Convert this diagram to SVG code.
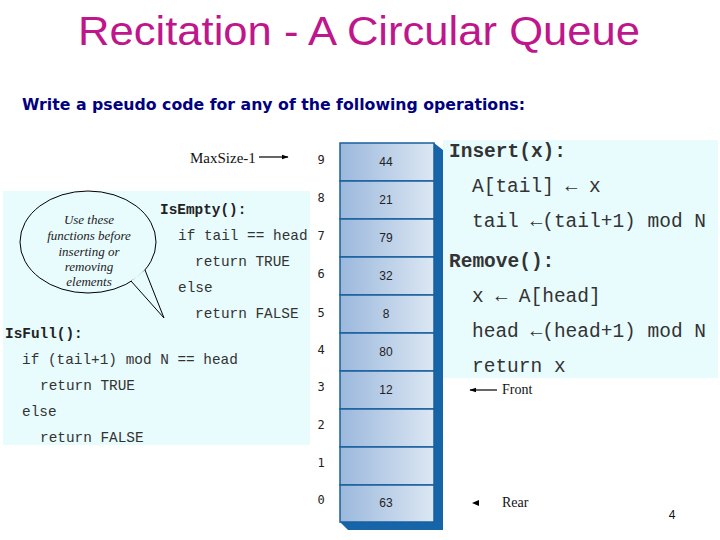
<svg xmlns="http://www.w3.org/2000/svg" width="720" height="540" viewBox="0 0 720 540">
<defs>
<linearGradient id="cellg" x1="0" y1="0" x2="1" y2="0">
<stop offset="0" stop-color="#9bb8dc"/>
<stop offset="1" stop-color="#dce7f3"/>
</linearGradient>
<marker id="ah" viewBox="0 0 10 10" refX="9" refY="5" markerWidth="7" markerHeight="7" orient="auto-start-reverse" markerUnits="userSpaceOnUse">
<path d="M0,1.5 L10,5 L0,8.5 z" fill="#000"/>
</marker>
</defs>
<style>
.title{font-family:"Comic Sans MS","Liberation Sans",sans-serif;font-size:40px;fill:#c0168c}
.sub{font-family:"Comic Sans MS","DejaVu Sans",sans-serif;font-size:16px;font-weight:bold;fill:#000080}
.panel{fill:#e8fbfd}
.code{font-family:"Liberation Mono","Courier New",monospace;font-size:14.4px;fill:#333;white-space:pre}
.codeb{font-weight:bold;fill:#222}
.big{font-family:"Liberation Mono","Courier New",monospace;font-size:19.5px;fill:#333;white-space:pre}
.cell{fill:url(#cellg);stroke:#1a5f9e;stroke-width:1.5}
.val{font-family:"Liberation Sans",Arial,sans-serif;font-size:12px;fill:#222;text-anchor:middle}
.idx{font-family:"DejaVu Sans Mono","Liberation Mono",monospace;font-size:12px;fill:#222;text-anchor:middle}
.serif{font-family:"Liberation Serif","Times New Roman",serif;fill:#111}
.bub{font-family:"Liberation Serif","Times New Roman",serif;font-style:italic;font-size:13px;fill:#222;text-anchor:middle}
.line{stroke:#000;stroke-width:1.2;fill:none}
</style>

<rect width="720" height="540" fill="#fff"/>

<g id="title">
<text class="title" x="78" y="45" textLength="562" lengthAdjust="spacingAndGlyphs">Recitation - A Circular Queue</text>
</g>
<g id="subtitle">
<text class="sub" x="22" y="110" textLength="503" lengthAdjust="spacingAndGlyphs">Write a pseudo code for any of the following operations:</text>
</g>

<g id="left-panel">
<rect class="panel" x="3" y="191" width="307" height="254"/>
</g>
<g id="right-panel">
<rect class="panel" x="443" y="140" width="275" height="238"/>
</g>

<g id="bubble">
<ellipse cx="88" cy="242" rx="68" ry="51" fill="#e8fbfd" stroke="#000" stroke-width="1"/>
<path d="M131,281 L164,318 L145,270 z" fill="#e8fbfd" stroke="none"/>
<path d="M131,281 L164,318 L145,270" fill="none" stroke="#000" stroke-width="1"/>
<text class="bub" x="89" y="224">Use these</text>
<text class="bub" x="89" y="240">functions before</text>
<text class="bub" x="89" y="256">inserting or</text>
<text class="bub" x="89" y="271">removing</text>
<text class="bub" x="89" y="286">elements</text>
</g>

<g id="isempty">
<text class="code codeb" x="160" y="214">IsEmpty():</text>
<text class="code" x="178" y="240">if tail == head</text>
<text class="code" x="195" y="266">return TRUE</text>
<text class="code" x="178" y="292">else</text>
<text class="code" x="195" y="318">return FALSE</text>
</g>

<g id="isfull">
<text class="code codeb" x="5" y="338">IsFull():</text>
<text class="code" x="22" y="364">if (tail+1) mod N == head</text>
<text class="code" x="40" y="390">return TRUE</text>
<text class="code" x="22" y="416">else</text>
<text class="code" x="40" y="442">return FALSE</text>
</g>

<g id="array">
<polygon points="434,143 443,150 443,530 348,530 340,522 434,522" fill="#1565a8"/>
<rect class="cell" x="340" y="143" width="94" height="38"/>
<rect class="cell" x="340" y="181" width="94" height="38"/>
<rect class="cell" x="340" y="219" width="94" height="38"/>
<rect class="cell" x="340" y="257" width="94" height="38"/>
<rect class="cell" x="340" y="295" width="94" height="38"/>
<rect class="cell" x="340" y="333" width="94" height="38"/>
<rect class="cell" x="340" y="371" width="94" height="38"/>
<rect class="cell" x="340" y="409" width="94" height="38"/>
<rect class="cell" x="340" y="447" width="94" height="38"/>
<rect class="cell" x="340" y="485" width="94" height="37"/>
<text class="val" x="386" y="166">44</text>
<text class="val" x="386" y="204">21</text>
<text class="val" x="386" y="242">79</text>
<text class="val" x="386" y="280">32</text>
<text class="val" x="386" y="318">8</text>
<text class="val" x="386" y="356">80</text>
<text class="val" x="386" y="394">12</text>
<text class="val" x="386" y="507">63</text>
</g>

<g id="indices">
<text class="idx" x="321" y="164">9</text>
<text class="idx" x="321" y="202">8</text>
<text class="idx" x="321" y="240">7</text>
<text class="idx" x="321" y="278">6</text>
<text class="idx" x="321" y="317">5</text>
<text class="idx" x="321" y="354">4</text>
<text class="idx" x="321" y="391">3</text>
<text class="idx" x="321" y="429">2</text>
<text class="idx" x="321" y="467">1</text>
<text class="idx" x="321" y="504">0</text>
</g>

<g id="insert">
<text class="big codeb" x="449" y="157">Insert(x):</text>
<text class="big" x="472" y="192">A[tail] ← x</text>
<text class="big" x="472" y="227">tail ←(tail+1) mod N</text>
</g>
<g id="remove">
<text class="big codeb" x="449" y="267">Remove():</text>
<text class="big" x="472" y="302">x ← A[head]</text>
<text class="big" x="472" y="337">head ←(head+1) mod N</text>
<text class="big" x="472" y="372">return x</text>
</g>

<g id="connectors">
<line class="line" x1="259" y1="157" x2="288" y2="157" marker-end="url(#ah)"/>
<line class="line" x1="497" y1="390" x2="470" y2="390" marker-end="url(#ah)"/>
<path d="M472,503 L479,500 L479,506 z" fill="#000"/>
</g>

<g id="labels">
<text class="serif" x="190" y="163" font-size="15">MaxSize-1</text>
<text class="serif" x="502" y="394" font-size="14">Front</text>
<text class="serif" x="502" y="507" font-size="14">Rear</text>
<text x="672" y="519" font-family="Liberation Sans, Arial, sans-serif" font-size="12" fill="#111" text-anchor="middle">4</text>
</g>
</svg>
